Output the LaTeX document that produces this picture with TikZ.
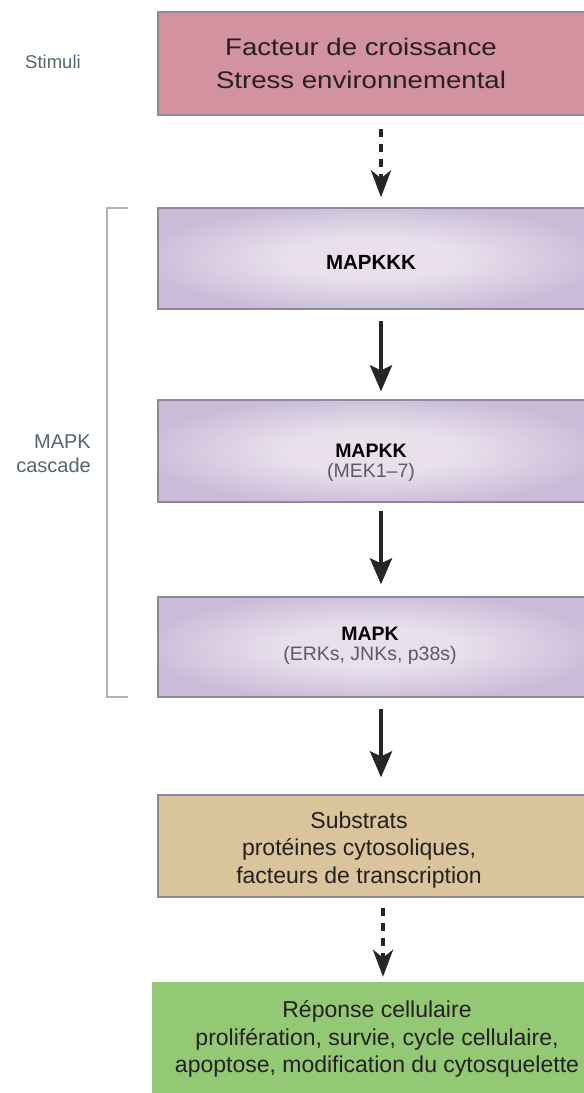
\documentclass[tikz,border=0pt]{standalone}
\usepackage{fontspec}
\setmainfont{Liberation Sans}
\newfontfamily\widefont[FakeStretch=1.15]{Liberation Sans}
\usetikzlibrary{arrows.meta}
\definecolor{pinkbox}{HTML}{D3929F}
\definecolor{pcen}{HTML}{E9E0EC}
\definecolor{pedge}{HTML}{CABCD9}
\definecolor{tanbox}{HTML}{D9C49C}
\definecolor{greenbox}{HTML}{93C874}
\definecolor{boxline}{HTML}{8E8A98}
\definecolor{arrowc}{HTML}{262626}
\definecolor{darktext}{HTML}{262022}
\definecolor{labelc}{HTML}{56666E}
\definecolor{subgray}{HTML}{5A5A68}
\definecolor{bracketc}{HTML}{A8B7C1}
\pgfdeclareradialshading{purpshade}{\pgfpoint{0bp}{0bp}}{color(0bp)=(pcen); color(10bp)=(pcen); color(27bp)=(pedge); color(50bp)=(pedge)}
\tikzset{
  box/.style={rectangle, inner sep=0pt, draw=boxline, line width=1.3pt},
  purplebox/.style={box, shading=purpshade, minimum width=428pt},
  arr/.style={line width=4pt, draw=arrowc, -{Stealth[length=26pt,width=22pt,inset=5pt]}},
  dotarr/.style={line width=4.5pt, draw=arrowc, dash pattern=on 8pt off 7pt, -{Stealth[length=27pt,width=20pt,inset=8pt]}},
  bracketline/.style={draw=bracketc, line width=1.6pt},
  txt/.style={align=center, text=darktext, inner sep=0pt},
  lab/.style={text=labelc, inner sep=0pt}
}
\begin{document}
\begin{tikzpicture}[x=1pt,y=-1pt]
\useasboundingbox (0,0) rectangle (584,1093);
\fill[white] (0,0) rectangle (584,1093);
\clip (0,0) rectangle (584,1093);
% boxes
\node[box, fill=pinkbox, minimum width=428pt, minimum height=103pt] (stim) at (372,63.5) {};
\node[purplebox, minimum height=101pt] (mkkk) at (372,258.5) {};
\node[purplebox, minimum height=102pt] (mkk) at (372,451) {};
\node[purplebox, minimum height=100pt] (mk) at (372,647) {};
\node[box, fill=tanbox, minimum width=428pt, minimum height=102pt] (subs) at (372,846) {};
\node[rectangle, inner sep=0pt, fill=greenbox, minimum width=434pt, minimum height=118pt] (resp) at (369,1041) {};
% texts
\node[txt, font=\widefont\fontsize{24}{33}\selectfont] (stimtxt) at (361,63) {Facteur de croissance\\Stress environnemental};
\node[txt, text=black, font=\bfseries\fontsize{20.5}{24}\selectfont] (mkkktxt) at (371,262.5) {MAPKKK};
\node[txt, text=black, font=\fontsize{19.5}{20.5}\selectfont] (mkktxt) at (371,463) {\textbf{MAPKK}\\\textcolor{subgray}{(MEK1–7)}};
\node[txt, text=black, font=\fontsize{19.5}{20.5}\selectfont] (mktxt) at (370,646) {\textbf{MAPK}\\\textcolor{subgray}{(ERKs, JNKs, p38s)}};
\node[txt, font=\fontsize{23}{27.5}\selectfont] (substxt) at (359,850) {Substrats\\protéines cytosoliques,\\facteurs de transcription};
\node[txt, font=\fontsize{23}{27.5}\selectfont] (resptxt) at (377,1039) {Réponse cellulaire\\prolifération, survie, cycle cellulaire,\\apoptose, modification du cytosquelette};
% side labels
\node[lab, font=\fontsize{18.5}{22}\selectfont] (stimlab) at (53,62) {Stimuli};
\node[lab, align=right, anchor=east, font=\fontsize{20}{24}\selectfont] (caslab) at (91,454) {MAPK\\cascade};
% bracket
\coordinate (brt) at (128,208);
\coordinate (brtl) at (107,208);
\coordinate (brbl) at (107,697);
\coordinate (brb) at (128,697);
\draw[bracketline] (brt) -- (brtl) -- (brbl) -- (brb);
% arrows
\coordinate (ax) at (381,0);
\coordinate (axb) at (383,0);
\draw[dotarr, shorten <=13pt, shorten >=10pt] (stim.south -| ax) -- (mkkk.north -| ax);
\draw[arr, shorten <=11pt, shorten >=8pt] (mkkk.south -| ax) -- (mkk.north -| ax);
\draw[arr, shorten <=8pt, shorten >=12pt] (mkk.south -| ax) -- (mk.north -| ax);
\draw[arr, shorten <=11pt, shorten >=17pt] (mk.south -| ax) -- (subs.north -| ax);
\draw[dotarr, shorten <=10pt, shorten >=5pt] (subs.south -| axb) -- (resp.north -| axb);
\end{tikzpicture}
\end{document}
